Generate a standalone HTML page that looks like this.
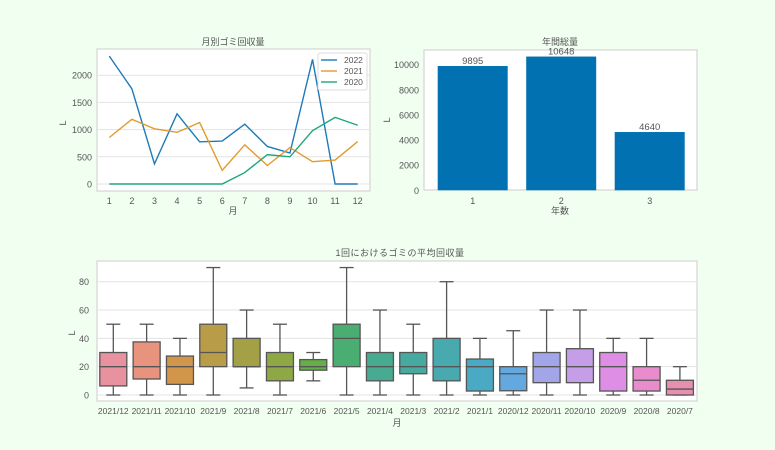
<!DOCTYPE html>
<html><head><meta charset="utf-8"><style>
body{margin:0;background:#f0fff0;}
svg{display:block;font-family:"Liberation Sans","Noto Sans CJK JP",sans-serif;}
text{fill:#555;}
</style></head><body>
<svg width="775" height="450" viewBox="0 0 775 450">
<g id="lineChart"></g>
<g id="barChart"></g>
<g id="boxChart"></g>
</svg>
<script>
const months=[1,2,3,4,5,6,7,8,9,10,11,12];
const s2022=[2350,1750,370,1290,775,790,1100,690,570,2290,0,0];
const s2021=[855,1190,1015,950,1130,250,720,340,670,410,440,780];
const s2020=[0,0,0,0,0,0,210,540,500,980,1225,1080];
const lineTicks=[0,500,1000,1500,2000];
const years=[1,2,3];
const totals=[9895,10648,4640];
const barTicks=[0,2000,4000,6000,8000,10000];
const boxCats=["2021/12","2021/11","2021/10","2021/9","2021/8","2021/7","2021/6","2021/5","2021/4","2021/3","2021/2","2021/1","2020/12","2020/11","2020/10","2020/9","2020/8","2020/7"];
const boxMin=[0,0,0,0,5,0,10,0,0,0,0,0,0,0,0,0,0,0];
const boxQ1=[6.4,11.3,7.5,20,20,10,17.5,20,10,15,10,2.8,3,8.7,8.7,2.8,2.8,0];
const boxMed=[20,20,20,30,20,20,20,40,20,20,20,20,15,20,20,20,10.4,4.2];
const boxQ3=[30,37.5,27.5,50,40,30,25,50,30,30,40,25.4,20,30,32.7,30,20,10.4];
const boxMax=[50,50,40,90,60,50,30,90,60,50,80,40,45.4,60,60,40,40,20];
const boxTicks=[0,20,40,60,80];
const boxColors=["#e8919f","#e8937e","#d2964a","#b89c47","#a3a046","#8da844","#64b046","#4aae73","#47ab92","#47aaa0","#48aaaf","#4aaac4","#63a8de","#a2a6e8","#c59ee8","#df8ee5","#e88ccd","#e78faf"];
const NS="http://www.w3.org/2000/svg";
function mk(p,tag,a,txt){const e=document.createElementNS(NS,tag);for(const k in a)e.setAttribute(k,a[k]);if(txt!==undefined)e.textContent=txt;p.appendChild(e);return e;}

// line chart
(function(){
const g=document.getElementById('lineChart');
const L=97,R=370,T=49,B=191;
const x=m=>109.3+(m-1)*22.58, y=v=>184-v*0.0544;
let bg=mk(g,'rect',{x:L,y:T,width:R-L,height:B-T,fill:'#fff',stroke:'#ccc'});

lineTicks.forEach(t=>{mk(g,'line',{x1:L,x2:R,y1:y(t),y2:y(t),stroke:'#e3e3e3'});
 let e=mk(g,'text',{x:L-5,y:y(t)+3.5,'font-size':9,'text-anchor':'end'},t);});
months.forEach(m=>{let e=mk(g,'text',{x:x(m),y:204,'font-size':9,'text-anchor':'middle'},m);});
const series=[[s2022,'#1f7ab8','2022'],[s2021,'#e39a2c','2021'],[s2020,'#1fa67a','2020']];
series.forEach(([d,c,n])=>{let p=mk(g,'polyline',{points:d.map((v,i)=>x(months[i])+','+y(v)).join(' '),fill:'none',stroke:c,'stroke-width':1.4});
 });
let lg=mk(g,'rect',{x:318,y:53,width:49,height:37,fill:'#fff',stroke:'#ddd',rx:2});

series.forEach(([d,c,n],i)=>{const yy=60+i*11;mk(g,'line',{x1:321,x2:337,y1:yy,y2:yy,stroke:c,'stroke-width':1.4});
 let t=mk(g,'text',{x:344,y:yy+3,'font-size':8.5},n);});
let t=mk(g,'text',{x:233,y:45,'font-size':9,'text-anchor':'middle'},'月別ゴミ回収量');
t=mk(g,'text',{x:233,y:214,'font-size':9,'text-anchor':'middle'},'月');
t=mk(g,'text',{x:66,y:123,'font-size':9,'text-anchor':'middle',transform:'rotate(-90 66 123)'},'L');
})();

// bar chart
(function(){
const g=document.getElementById('barChart');
const L=424,R=697,T=50,B=190;
const x=i=>472.7+(i-1)*88.5, y=v=>190.3-v*0.01256;
let bg=mk(g,'rect',{x:L,y:T,width:R-L,height:B-T,fill:'#fff',stroke:'#ccc'});

barTicks.forEach(t=>{let e=mk(g,'text',{x:L-5,y:y(t)+3.5,'font-size':9,'text-anchor':'end'},t);});
years.forEach((yr,i)=>{let r=mk(g,'rect',{x:x(yr)-35,y:y(totals[i]),width:70,height:y(0)-y(totals[i]),fill:'#0171b2'});
 
 let t=mk(g,'text',{x:x(yr),y:y(totals[i])-2,'font-size':9.5,'text-anchor':'middle'},totals[i]);
 t=mk(g,'text',{x:x(yr),y:204,'font-size':9,'text-anchor':'middle'},yr);});
let t=mk(g,'text',{x:560,y:45,'font-size':9,'text-anchor':'middle'},'年間総量');
t=mk(g,'text',{x:560,y:214,'font-size':9,'text-anchor':'middle'},'年数');
t=mk(g,'text',{x:390,y:120,'font-size':9,'text-anchor':'middle',transform:'rotate(-90 390 120)'},'L');
})();

// box chart
(function(){
const g=document.getElementById('boxChart');
const L=97,R=697,T=261,B=401;
const x=i=>113.3+i*33.33, y=v=>395-v*1.416;
let bg=mk(g,'rect',{x:L,y:T,width:R-L,height:B-T,fill:'#fff',stroke:'#ccc'});

boxTicks.forEach(t=>{mk(g,'line',{x1:L,x2:R,y1:y(t),y2:y(t),stroke:'#e3e3e3'});
 let e=mk(g,'text',{x:L-8,y:y(t)+3.5,'font-size':9,'text-anchor':'end'},t);});
boxCats.forEach((c,i)=>{const cx=x(i),w=13.5;
 const gg=mk(g,'g',{});
 mk(gg,'line',{x1:cx,x2:cx,y1:y(boxMax[i]),y2:y(boxQ3[i]),stroke:'#555','stroke-width':1.3});
 mk(gg,'line',{x1:cx,x2:cx,y1:y(boxQ1[i]),y2:y(boxMin[i]),stroke:'#555','stroke-width':1.3});
 mk(gg,'line',{x1:cx-7,x2:cx+7,y1:y(boxMax[i]),y2:y(boxMax[i]),stroke:'#555','stroke-width':1.3});
 mk(gg,'line',{x1:cx-7,x2:cx+7,y1:y(boxMin[i]),y2:y(boxMin[i]),stroke:'#555','stroke-width':1.3});
 mk(gg,'rect',{x:cx-w,y:y(boxQ3[i]),width:2*w,height:y(boxQ1[i])-y(boxQ3[i]),fill:boxColors[i],stroke:'#555','stroke-width':1.3});
 mk(gg,'line',{x1:cx-w,x2:cx+w,y1:y(boxMed[i]),y2:y(boxMed[i]),stroke:'#555','stroke-width':1.3});
 let t=mk(g,'text',{x:cx,y:414,'font-size':8.5,'text-anchor':'middle'},c);});
let t=mk(g,'text',{x:400,y:256,'font-size':9,'text-anchor':'middle','letter-spacing':'0.5'},'1回におけるゴミの平均回収量');
t=mk(g,'text',{x:397,y:426,'font-size':9,'text-anchor':'middle'},'月');
t=mk(g,'text',{x:75,y:333,'font-size':9,'text-anchor':'middle',transform:'rotate(-90 75 333)'},'L');
})();
</script>
</body></html>
